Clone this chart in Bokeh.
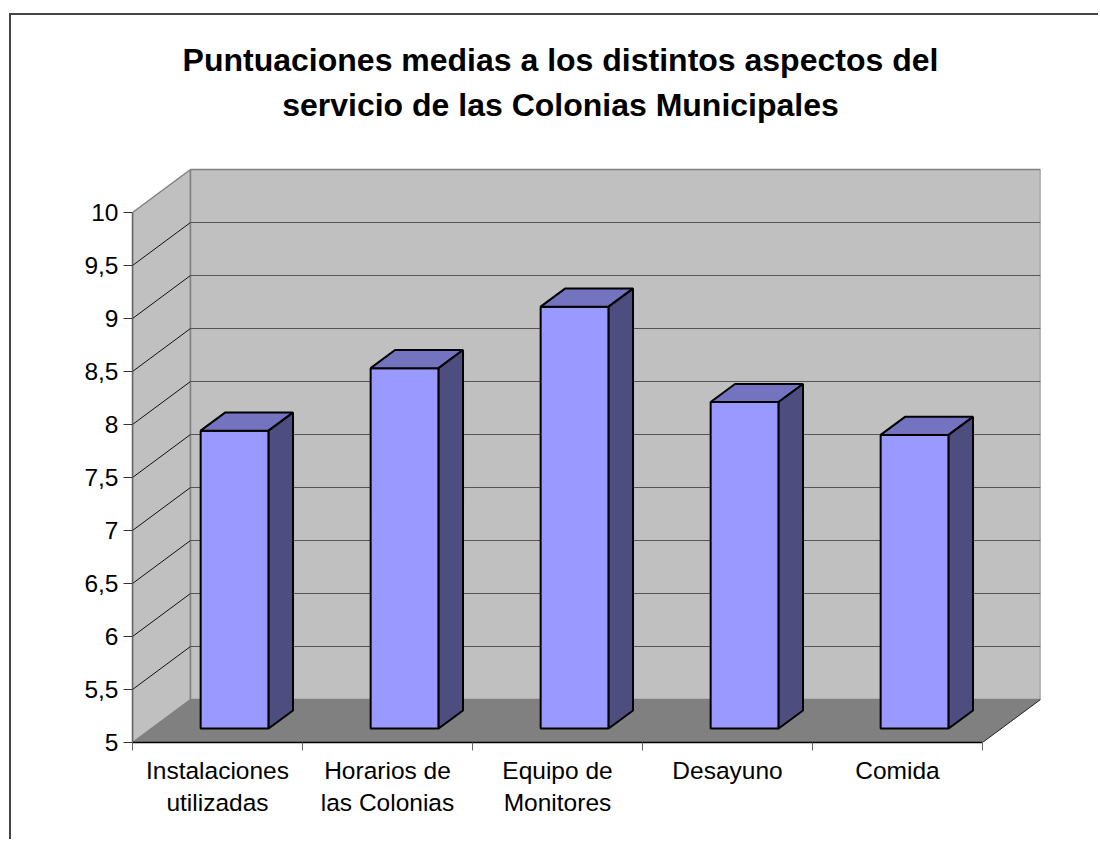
from bokeh.plotting import figure
from bokeh.models import FixedTicker, Range1d, Label, LinearAxis
from bokeh.embed import file_html
from bokeh.resources import INLINE

categories = ["Instalaciones\nutilizadas", "Horarios de\nlas Colonias", "Equipo de\nMonitores", "Desayuno", "Comida"]
values = [7.81, 8.40, 8.98, 8.08, 7.77]
y_ticks = [5, 5.5, 6, 6.5, 7, 7.5, 8, 8.5, 9, 9.5, 10]
y_labels = ["5", "5,5", "6", "6,5", "7", "7,5", "8", "8,5", "9", "9,5", "10"]
title_lines = ["Puntuaciones medias a los distintos aspectos del",
               "servicio de las Colonias Municipales"]

FONT = "Liberation Sans"
W, H = 1089, 826
ML, MT, MR, MB = 121, 0, 60, 99
FW, FH = W - ML - MR, H - MT - MB
PX_X = 850 / 5      # pixels per category
PX_Y = 106          # pixels per unit of value
DX, DY = 58 / PX_X, 43 / PX_Y  # depth of the 3D box in data units


def proj(x, v, d):
    return x + d * DX, v + d * DY


def face(points):
    pts = [proj(*q) for q in points]
    return [a for a, _ in pts], [b for _, b in pts]


n = len(categories)
p = figure(width=W, height=H, output_backend="svg", toolbar_location=None,
           x_range=Range1d(0, FW / PX_X), y_range=Range1d(5, 5 + FH / PX_Y),
           min_border_left=ML, min_border_right=MR, min_border_top=MT, min_border_bottom=MB,
           x_axis_type=None, y_axis_type=None, outline_line_color=None,
           background_fill_color="white", border_fill_color="white")
p.xgrid.visible = False
p.ygrid.visible = False
p.margin = (13, 0, 0, 9)
p.styles = {"border-left": "2px solid #444444", "border-top": "2px solid #444444"}

lo, hi = y_ticks[0], y_ticks[-1]
WALL, FLOOR, EDGE = "#C0C0C0", "#808080", "#808080"

# side wall, back wall, floor
xs, ys = face([(0, lo, 0), (0, hi, 0), (0, hi, 1), (0, lo, 1)])
p.patch(xs, ys, fill_color=WALL, line_color=EDGE, line_width=1.5)
xs, ys = face([(0, lo, 1), (0, hi, 1), (n, hi, 1), (n, lo, 1)])
p.patch(xs, ys, fill_color=WALL, line_color=EDGE, line_width=1.5)

# grid lines on both walls
for v in y_ticks[1:-1]:
    xs, ys = face([(0, v, 0), (0, v, 1)])
    p.line(xs, ys, line_color="#111111", line_width=1)
    xs, ys = face([(0, v, 1), (n, v, 1)])
    p.line(xs, ys, line_color="#555555", line_width=1)

xs, ys = face([(0, lo, 0), (n, lo, 0), (n, lo, 1), (0, lo, 1)])
p.patch(xs, ys, fill_color=FLOOR, line_color=None)
xs, ys = face([(n, lo, 0), (n, lo, 1)])
p.line(xs, ys, line_color="#222222", line_width=1)

# bars
B0, B1 = 0.29, 0.69
D0, D1 = 0.325, 0.745
for i, v in enumerate(values):
    a, b = i + B0, i + B1
    xs, ys = face([(a, lo, D0), (a, v, D0), (b, v, D0), (b, lo, D0)])
    p.patch(xs, ys, fill_color="#9999FF", line_color="black", line_width=2)
    xs, ys = face([(a, v, D0), (a, v, D1), (b, v, D1), (b, v, D0)])
    p.patch(xs, ys, fill_color="#7373BF", line_color="black", line_width=2)
    xs, ys = face([(b, lo, D0), (b, v, D0), (b, v, D1), (b, lo, D1)])
    p.patch(xs, ys, fill_color="#4D4D80", line_color="black", line_width=2)

# value axis
ya = LinearAxis(ticker=FixedTicker(ticks=y_ticks), bounds=(lo, hi),
                major_label_overrides=dict(zip(y_ticks, y_labels)))
ya.axis_line_color = "#666666"
ya.axis_line_width = 1.5
ya.major_tick_line_color = "#333333"
ya.major_tick_in = 0
ya.major_tick_out = 9
ya.minor_tick_line_color = None
ya.major_label_text_font = FONT
ya.major_label_text_font_size = "24.5px"
ya.major_label_text_color = "black"
ya.major_label_standoff = 5
p.add_layout(ya, "left")

# category axis: boundary ticks as minor ticks, labels at the centres
centres = [i + 0.5 for i in range(n)]
xa = LinearAxis(ticker=FixedTicker(ticks=centres, minor_ticks=list(range(n + 1))),
                bounds=(0, n),
                major_label_overrides=dict(zip(centres, categories)))
xa.axis_line_color = "black"
xa.axis_line_width = 1.5
xa.major_tick_line_color = None
xa.major_tick_in = 0
xa.major_tick_out = 0
xa.minor_tick_line_color = "#666666"
xa.minor_tick_in = 0
xa.minor_tick_out = 8
xa.major_label_text_font = FONT
xa.major_label_text_font_size = "24.5px"
xa.major_label_text_color = "black"
xa.major_label_standoff = 6
p.add_layout(xa, "below")

# chart title (screen units here run from the frame's lower left corner)
for line, sy in zip(title_lines, (683, 638)):
    p.add_layout(Label(x=428, y=sy, x_units="screen", y_units="screen", text=line,
                       text_align="center", text_baseline="middle",
                       text_font=FONT, text_font_size="32px", text_font_style="bold",
                       text_color="black"))

open("out.html", "w").write(file_html(p, INLINE))
